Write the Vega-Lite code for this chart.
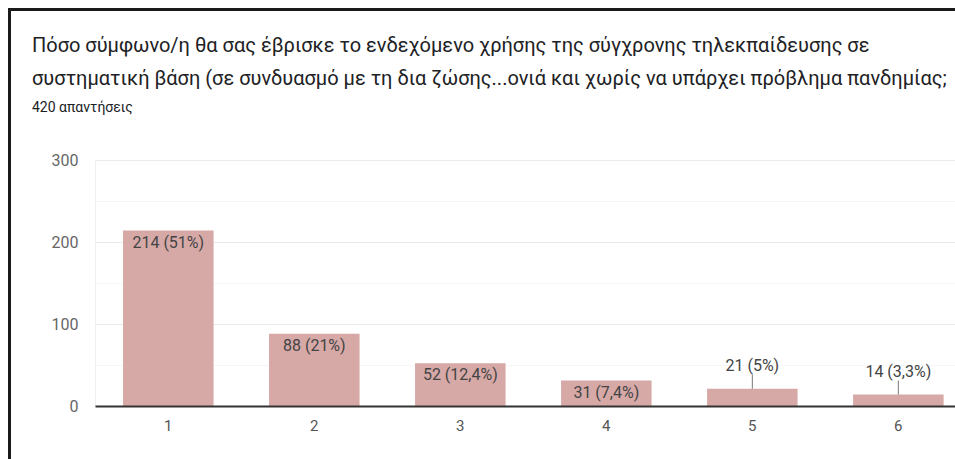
{
  "$schema": "https://vega.github.io/schema/vega-lite/v6.json",
  "width": 946,
  "height": 450,
  "autosize": {"type": "none"},
  "padding": {"left": 9, "top": 9, "right": 0, "bottom": 0},
  "background": "white",
  "view": {"stroke": null, "fill": "white"},
  "title": {
    "text": [
      "Πόσο σύμφωνο/η θα σας έβρισκε το ενδεχόμενο χρήσης της σύγχρονης τηλεκπαίδευσης σε",
      "συστηματική βάση (σε συνδυασμό με τη δια ζώσης...ονιά και χωρίς να υπάρχει πρόβλημα πανδημίας;"
    ],
    "subtitle": "420 απαντήσεις",
    "orient": "top",
    "anchor": "start",
    "frame": "group",
    "offset": -106,
    "dx": 23,
    "font": "Roboto",
    "fontSize": 20,
    "fontWeight": "normal",
    "color": "#202124",
    "lineHeight": 33,
    "subtitleFont": "Roboto",
    "subtitleFontSize": 14,
    "subtitleColor": "#202124",
    "subtitlePadding": 12
  },
  "data": {
    "values": [
      {"cat": "1", "value": 214, "label": "214 (51%)", "pos": "in"},
      {"cat": "2", "value": 88, "label": "88 (21%)", "pos": "in"},
      {"cat": "3", "value": 52, "label": "52 (12,4%)", "pos": "in"},
      {"cat": "4", "value": 31, "label": "31 (7,4%)", "pos": "in"},
      {"cat": "5", "value": 21, "label": "21 (5%)", "pos": "out"},
      {"cat": "6", "value": 14, "label": "14 (3,3%)", "pos": "out"}
    ]
  },
  "layer": [
    {
      "encoding": {
        "x": {
          "field": "cat",
          "type": "nominal",
          "sort": null,
          "scale": {"type": "band", "range": [86, 946], "paddingInner": 0.38, "paddingOuter": 0.135, "align": 0.711},
          "axis": {
            "orient": "bottom",
            "offset": -53,
            "zindex": 1,
            "domainColor": "#333333",
            "domainWidth": 2,
            "ticks": false,
            "grid": false,
            "labelAngle": 0,
            "labelPadding": 12,
            "labelFont": "Roboto",
            "labelFontSize": 15,
            "labelColor": "#555555",
            "title": null
          }
        },
        "y": {
          "field": "value",
          "type": "quantitative",
          "scale": {"domain": [0, 300], "range": [397, 151], "nice": false},
          "axis": {
            "orient": "left",
            "values": [0, 50, 100, 150, 200, 250, 300],
            "offset": -86,
            "domain": true,
            "domainColor": "#eef0f0",
            "domainWidth": 1,
            "ticks": false,
            "labelPadding": 17,
            "labelExpr": "datum.value % 100 === 0 ? datum.label : ''",
            "labelFont": "Roboto",
            "labelFontSize": 16,
            "labelColor": "#666666",
            "gridColor": {"condition": {"test": "datum.value % 100 === 0", "value": "#ebebeb"}, "value": "#f6f6f6"},
            "title": null
          }
        }
      },
      "layer": [
        {"mark": {"type": "bar", "color": "#d6a9a7"}},
        {
          "transform": [{"filter": "datum.pos === 'in'"}],
          "mark": {"type": "text", "baseline": "middle", "dy": 12, "font": "Roboto", "fontSize": 16, "color": "#444444"},
          "encoding": {"text": {"field": "label"}}
        },
        {
          "transform": [{"filter": "datum.pos === 'out'"}],
          "mark": {"type": "text", "baseline": "middle", "dy": -23, "font": "Roboto", "fontSize": 16, "color": "#444444"},
          "encoding": {"text": {"field": "label"}}
        },
        {
          "transform": [{"filter": "datum.pos === 'out'"}],
          "mark": {"type": "rule", "color": "#777777", "strokeWidth": 1, "y2Offset": -14},
          "encoding": {"y2": {"field": "value"}}
        }
      ]
    },
    {
      "mark": {"type": "point", "opacity": 0},
      "encoding": {
        "x": {
          "field": "value",
          "type": "quantitative",
          "axis": {"orient": "top", "domainColor": "#1a1a1a", "domainWidth": 3, "domainCap": "square", "labels": false, "ticks": false, "grid": false, "title": null}
        },
        "y": {
          "field": "value",
          "type": "quantitative",
          "axis": {"orient": "left", "domainColor": "#1a1a1a", "domainWidth": 3, "domainCap": "square", "labels": false, "ticks": false, "grid": false, "title": null}
        }
      }
    }
  ],
  "resolve": {
    "scale": {"x": "independent", "y": "independent"},
    "axis": {"x": "independent", "y": "independent"}
  }
}
